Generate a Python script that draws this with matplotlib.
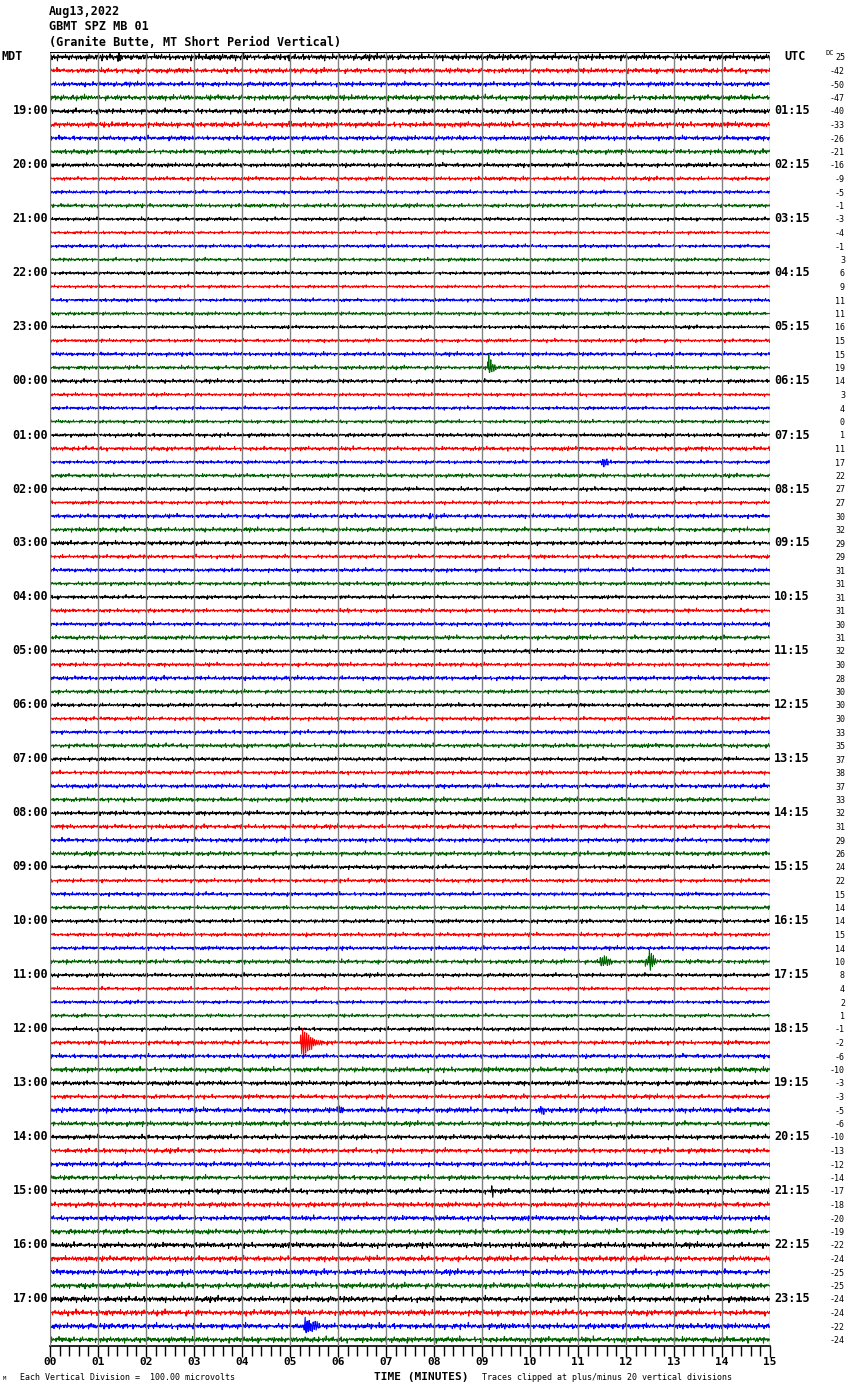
import numpy as np
import matplotlib
matplotlib.use('Agg')
import matplotlib.pyplot as plt

# Cabecera
fecha = "Aug13,2022"
estacion = "GBMT SPZ MB 01"
descripcion = "(Granite Butte, MT Short Period Vertical)"

# Etiquetas de hora (cada 4 trazas)
horas_mdt = ["19:00", "20:00", "21:00", "22:00", "23:00", "00:00", "01:00", "02:00",
             "03:00", "04:00", "05:00", "06:00", "07:00", "08:00", "09:00", "10:00",
             "11:00", "12:00", "13:00", "14:00", "15:00", "16:00", "17:00"]
horas_utc = ["01:15", "02:15", "03:15", "04:15", "05:15", "06:15", "07:15", "08:15",
             "09:15", "10:15", "11:15", "12:15", "13:15", "14:15", "15:15", "16:15",
             "17:15", "18:15", "19:15", "20:15", "21:15", "22:15", "23:15"]

# Desplazamiento DC de cada traza (96 trazas de 15 minutos)
dc = [25, -42, -50, -47, -40, -33, -26, -21, -16, -9, -5, -1, -3, -4, -1, 3,
      6, 9, 11, 11, 16, 15, 15, 19, 14, 3, 4, 0, 1, 11, 17, 22,
      27, 27, 30, 32, 29, 29, 31, 31, 31, 31, 30, 31, 32, 30, 28, 30,
      30, 30, 33, 35, 37, 38, 37, 33, 32, 31, 29, 26, 24, 22, 15, 14,
      14, 15, 14, 10, 8, 4, 2, 1, -1, -2, -6, -10, -3, -3, -5, -6,
      -10, -13, -12, -14, -17, -18, -20, -19, -22, -24, -25, -25, -24, -24, -22, -24]

colores = ["black", "red", "#0000ff", "#006400"]

# Nivel de ruido de fondo por traza (en divisiones)
ruido = [0.16, 0.13, 0.12, 0.14, 0.13, 0.14, 0.12, 0.12, 0.11, 0.10, 0.09, 0.10,
         0.09, 0.08, 0.09, 0.09, 0.09, 0.08, 0.09, 0.09, 0.09, 0.09, 0.10, 0.10,
         0.10, 0.09, 0.09, 0.09, 0.10, 0.11, 0.09, 0.10, 0.10, 0.09, 0.11, 0.11,
         0.11, 0.10, 0.10, 0.10, 0.10, 0.10, 0.10, 0.11, 0.10, 0.10, 0.11, 0.10,
         0.10, 0.10, 0.10, 0.11, 0.10, 0.10, 0.11, 0.11, 0.11, 0.11, 0.11, 0.11,
         0.11, 0.10, 0.10, 0.10, 0.10, 0.10, 0.10, 0.11, 0.10, 0.09, 0.09, 0.09,
         0.10, 0.11, 0.11, 0.13, 0.12, 0.11, 0.13, 0.12, 0.12, 0.12, 0.12, 0.12,
         0.13, 0.13, 0.13, 0.13, 0.14, 0.14, 0.14, 0.14, 0.15, 0.15, 0.15, 0.15]

# Patrones de ruido leidos a ojo del registro
patron_a = [0, 1, -1, 0, 2, -1, 0, 0, -2, 1, 0, 1, -1, 0, 0, 3, -2, 0, 1, 0,
            -1, 0, 0, 1, -1, 2, 0, -1, 0, 0, 1, -3, 1, 0, 0, -1, 1, 0, 2, -1,
            0, 0, -1, 1, 0, -2, 0, 1, 0, 0, 1, -1, 0, 2, 0, -1, 0, 1, -1, 0,
            0, -2, 2, 0, 0, 1, 0, -1, 0, 1, 0, 0, -1, 3, -1, 0, 1, 0, -2, 0,
            1, 0, -1, 0, 1, -1, 0, 0, 2]
patron_b = [1, 0, -1, 0, 0, 1, -1, 1, 0, 0, -1, 0, 1, 0, -1, 1, 0, 0, 1, -1,
            0, -1, 0, 1, 0, 0, -1, 1, 0, -1, 0, 0, 1, 0, -1, 0, 1, 1, -1, 0,
            0, -1, 1, 0, 0, 1, -1, 0, 0, 1, 0, -1, 0, 1, -1, 0, 0, 1, 0, -1, 0]

# Eventos: traza, minuto de inicio, muestras (1 muestra = 1/48 min)
eventos = [
    (0, 1.42, [0.2, -0.45, 0.4, -0.3, 0.2, -0.15]),
    (0, 4.96, [0.1, 0.3, -0.1]),
    (5, 4.98, [-0.25, 0.2, -0.2, 0.15, -0.1]),
    (23, 9.12, [-0.4, -0.95, 0.4, -0.6, 0.35, -0.3, 0.25, -0.2, 0.15, -0.12, 0.1, -0.08]),
    (30, 11.5, [0.15, -0.2, 0.2, -0.15, 0.2, -0.2, 0.15, -0.15, 0.1, -0.15, 0.1]),
    (34, 7.9, [0.2, -0.2, 0.1]),
    (34, 12.1, [0.15, -0.2, 0.1]),
    (41, 6.2, [-0.2, 0.15, -0.1]),
    (67, 11.45, [0.2, -0.3, 0.4, -0.3, 0.35, -0.4, 0.25, -0.35, 0.3, -0.2, 0.2, -0.15, 0.15]),
    (67, 12.4, [0.15, -0.2, 0.25, -0.35, -1.0, 0.5, -0.55, 0.4, -0.3, 0.2, -0.15, 0.12, -0.1]),
    (73, 5.22, [-0.5, 0.7, -1.0, 1.0, -0.8, 0.9, -0.7, 0.6, -0.5, 0.45, -0.35, 0.35,
                -0.3, 0.25, -0.2, 0.2, -0.15, 0.15, -0.12, 0.1, -0.08, 0.08]),
    (78, 6.0, [0.15, -0.2, 0.2, -0.15, 0.2, -0.2, 0.15]),
    (78, 10.2, [0.15, -0.2, 0.2, -0.15, 0.2, -0.2, 0.15]),
    (84, 9.2, [-0.35, 0.3, -0.15]),
    (94, 5.3, [0.3, -0.5, 0.45, -0.4, 0.5, -0.45, 0.35, -0.4, 0.45, -0.3, 0.3,
               -0.35, 0.3, -0.25, 0.2, -0.2, 0.2, -0.15]),
]

n_trazas = len(dc)
n_muestras = 1440
x = np.linspace(0, 15, n_muestras)
idx = np.arange(n_muestras)
pa = np.array(patron_a, dtype=float)
pb = np.array(patron_b, dtype=float)

fig = plt.figure(figsize=(8.5, 13.9), dpi=100)
ax = fig.add_axes([50 / 850, 44 / 1390, 720 / 850, 1294 / 1390])
ax.set_xlim(0, 15)
ax.set_ylim(95.48, -0.37)

# Lineas verticales de cada minuto (por encima de las trazas)
for m in range(16):
    ax.axvline(m, color='#808080', lw=1.0, zorder=3)

for i in range(n_trazas):
    s = i * 17
    y = (pa[(idx + s) % len(pa)] + 0.6 * pb[(idx * 3 + s) % len(pb)]) * ruido[i] * 0.5
    for fila, t0, muestras in eventos:
        if fila == i:
            k0 = int(round(t0 / 15 * (n_muestras - 1)))
            for j, v in enumerate(muestras):
                for r in range(2):
                    k = k0 + 2 * j + r
                    if k < n_muestras:
                        y[k] += v if r == 0 else -v * 0.3
    ax.plot(x, i + y, color=colores[i % 4], lw=0.75, zorder=2)

# Marco superior y eje inferior
ax.axhline(-0.37, color='black', lw=1.5, zorder=4)
for sp in ax.spines.values():
    sp.set_visible(False)
ax.spines['bottom'].set_visible(True)
ax.spines['bottom'].set_linewidth(1.2)
ax.set_yticks([])
ax.set_xticks(range(16))
ax.set_xticks(np.arange(0, 15.01, 0.2), minor=True)
ax.set_xticklabels(["%02d" % m for m in range(16)],
                   fontfamily='DejaVu Sans Mono', fontweight='bold', fontsize=8)
ax.tick_params(axis='x', which='major', length=8, width=1, direction='out', pad=0)
ax.tick_params(axis='x', which='minor', length=7, width=1, direction='out')

fuente = dict(fontfamily='DejaVu Sans Mono', fontweight='bold')

# Etiquetas de hora
fig.text(1 / 850, 1 - 57 / 1390, "MDT", ha='left', va='center', fontsize=8.5, **fuente)
for k, h in enumerate(horas_mdt):
    fig.text(48 / 850, 1 - (57 + 13.5 * 4 * (k + 1)) / 1390, h,
             ha='right', va='center', fontsize=8.5, **fuente)
fig.text(784 / 850, 1 - 57 / 1390, "UTC", ha='left', va='center', fontsize=8.5, **fuente)
for k, h in enumerate(horas_utc):
    fig.text(774 / 850, 1 - (57 + 13.5 * 4 * (k + 1)) / 1390, h,
             ha='left', va='center', fontsize=8.5, **fuente)

# Columna DC
fig.text(825 / 850, 1 - 53 / 1390, "DC", ha='left', va='center', fontsize=5,
         fontfamily='DejaVu Sans Mono')
for i, v in enumerate(dc):
    fig.text(845 / 850, 1 - (58 + 13.5 * i) / 1390, str(v),
             ha='right', va='center', fontsize=6, fontfamily='DejaVu Sans Mono')

# Cabecera
for k, t in enumerate([fecha, estacion, descripcion]):
    fig.text(49 / 850, 1 - (12 + 15 * k) / 1390, t, ha='left', va='center',
             fontsize=8.5, **fuente)

# Pie
fig.text(421 / 850, 1 - 1377 / 1390, "TIME (MINUTES)", ha='center', va='center',
         fontsize=8, **fuente)
fig.text(20 / 850, 1 - 1377 / 1390, "Each Vertical Division =  100.00 microvolts",
         ha='left', va='center', fontsize=6, fontfamily='DejaVu Sans Mono')
fig.text(482 / 850, 1 - 1377 / 1390, "Traces clipped at plus/minus 20 vertical divisions",
         ha='left', va='center', fontsize=6, fontfamily='DejaVu Sans Mono')
fig.text(3 / 850, 1 - 1379 / 1390, "M", ha='left', va='center', fontsize=4,
         fontfamily='DejaVu Sans Mono')

fig.savefig('out.png', dpi=100)
